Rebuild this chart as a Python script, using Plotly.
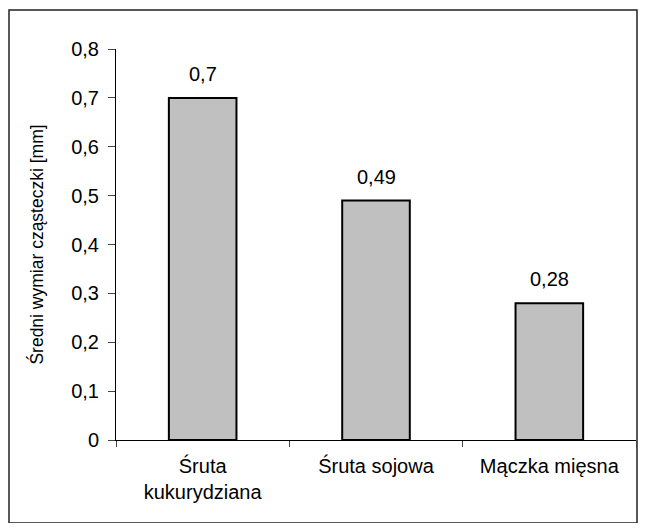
import plotly.graph_objects as go

categories = ["Śruta<br>kukurydziana", "Śruta sojowa", "Mączka mięsna"]
values = [0.7, 0.49, 0.28]
value_labels = ["0,7", "0,49", "0,28"]
y_ticks = [0, 0.1, 0.2, 0.3, 0.4, 0.5, 0.6, 0.7, 0.8]
y_title = "Średni wymiar cząsteczki [mm]"

FONT = "Liberation Sans, Arial, sans-serif"
OFF = 8  # page body margin
FW, FH = 646 - 2 * OFF, 531 - 2 * OFF

fig = go.Figure()
fig.add_trace(go.Bar(
    x=categories, y=values, width=0.39,
    marker=dict(color="#C0C0C0", line=dict(color="black", width=2)),
    hoverinfo="skip",
))

for c, v, t in zip(categories, values, value_labels):
    fig.add_annotation(x=c, y=v, text=t, showarrow=False, yanchor="bottom",
                       yshift=11, font=dict(family=FONT, size=20, color="black"))

# plot area in page coordinates
L, T, W, H = 116 - OFF, 49 - OFF, 520, 391
fig.add_shape(type="rect", xref="paper", yref="paper",
              x0=(9 - OFF - L) / W, x1=(637 - OFF - L) / W,
              y0=(T + H - (523 - OFF)) / H, y1=(T + H - (10 - OFF)) / H,
              line=dict(color="#222", width=1.5), fillcolor="rgba(0,0,0,0)", layer="below")

fig.update_layout(
    width=FW, height=FH,
    margin=dict(l=L, r=FW - L - W, t=T, b=FH - T - H, autoexpand=False),
    paper_bgcolor="white", plot_bgcolor="white",
    separators=", ",
    showlegend=False,
    font=dict(family=FONT, size=20, color="black"),
    xaxis=dict(
        showline=True, linecolor="black", linewidth=1,
        ticks="outside", tickson="boundaries", ticklen=6, tickcolor="#444",
        tickfont=dict(size=20), range=[-0.5, 2.5], showgrid=False,
        ticklabelstandoff=8,
    ),
    yaxis=dict(
        range=[0, 0.8], tickvals=y_ticks, tickformat=".1~f",
        showline=True, linecolor="black", linewidth=1,
        ticks="outside", ticklen=7, tickcolor="#444",
        tickfont=dict(size=20), showgrid=False, zeroline=False,
        ticklabelstandoff=5,
        title=dict(text=y_title, font=dict(size=17.5), standoff=23),
    ),
)

fig.write_html("out.html")
